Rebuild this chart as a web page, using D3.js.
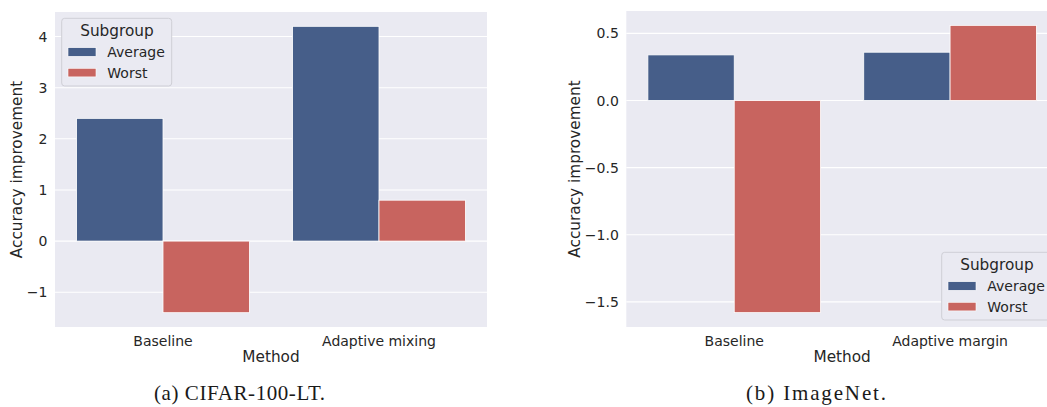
<!DOCTYPE html>
<html>
<head>
<meta charset="utf-8">
<script src="https://cdn.jsdelivr.net/npm/d3@7"></script>
<style>
  html, body { margin: 0; padding: 0; background: #ffffff; }
  svg { display: block; }
</style>
</head>
<body>
<svg id="fig" width="1047" height="407"></svg>
<script>
// Panel (a): CIFAR-100-LT
const methodsA = ["Baseline", "Adaptive mixing"];
const averageA = [2.4, 4.2];
const worstA = [-1.4, 0.8];
const ticksA = [-1, 0, 1, 2, 3, 4];

// Panel (b): ImageNet
const methodsB = ["Baseline", "Adaptive margin"];
const averageB = [0.34, 0.36];
const worstB = [-1.58, 0.56];
const ticksB = [-1.5, -1.0, -0.5, 0.0, 0.5];

const subgroups = ["Average", "Worst"];
const subgroupColors = ["#465e89", "#c8645f"];
const captions = ["(a) CIFAR-100-LT.", "(b) ImageNet."];

const TEXT = "#262626";
const FONT = "DejaVu Sans, sans-serif";
const svg = d3.select("#fig");

function drawPanel(cfg) {
  const { left, right, top, bottom, methods, average, worst, ticks, fmt,
          legend, caption, captionX, captionW, ylabelX } = cfg;

  // y domain padded by 5% of the data span, as matplotlib autoscaling does
  const all = average.concat(worst, [0]);
  const lo = d3.min(all), hi = d3.max(all), pad = (hi - lo) * 0.05;
  const y = d3.scaleLinear().domain([lo - pad, hi + pad]).range([bottom, top]);
  const x = d3.scaleBand().domain(methods).range([left, right]).padding(0);
  const xs = d3.scaleBand().domain(subgroups)
    .range([x.bandwidth() * 0.1, x.bandwidth() * 0.9]).padding(0);

  const g = svg.append("g");

  // axes background
  g.append("rect").attr("x", left).attr("y", top)
    .attr("width", right - left).attr("height", bottom - top)
    .attr("fill", "#eaeaf2");

  // horizontal grid
  g.append("g").selectAll("line").data(ticks).join("line")
    .attr("x1", left).attr("x2", right)
    .attr("y1", d => y(d)).attr("y2", d => y(d))
    .attr("stroke", "#ffffff").attr("stroke-width", 1.1);

  // bars
  const rows = [];
  methods.forEach((m, i) => {
    rows.push({ m, s: "Average", v: average[i], c: subgroupColors[0] });
    rows.push({ m, s: "Worst", v: worst[i], c: subgroupColors[1] });
  });
  g.append("g").selectAll("rect").data(rows).join("rect")
    .attr("x", d => x(d.m) + xs(d.s))
    .attr("width", xs.bandwidth())
    .attr("y", d => Math.min(y(d.v), y(0)))
    .attr("height", d => Math.abs(y(d.v) - y(0)))
    .attr("fill", d => d.c)
    .attr("stroke", "#ffffff").attr("stroke-width", 0.8);

  // y axis tick labels
  const yAxis = d3.axisLeft(y).tickValues(ticks).tickSize(0).tickPadding(7.5).tickFormat(fmt);
  const ya = g.append("g").attr("transform", `translate(${left},0)`).call(yAxis);
  ya.select(".domain").remove();
  ya.selectAll("text").attr("fill", TEXT).attr("font-family", FONT).attr("font-size", 14);

  // x axis tick labels
  const xAxis = d3.axisBottom(x).tickSize(0).tickPadding(9);
  const xa = g.append("g").attr("transform", `translate(0,${bottom})`).call(xAxis);
  xa.select(".domain").remove();
  xa.selectAll("text").attr("fill", TEXT).attr("font-family", FONT).attr("font-size", 14);

  // axis titles
  g.append("text").attr("x", (left + right) / 2).attr("y", 361.5)
    .attr("text-anchor", "middle").attr("fill", TEXT)
    .attr("font-family", FONT).attr("font-size", 15.3).text("Method");
  g.append("text")
    .attr("transform", `translate(${ylabelX},${(top + bottom) / 2}) rotate(-90)`)
    .attr("text-anchor", "middle").attr("dy", "0.35em").attr("fill", TEXT)
    .attr("font-family", FONT).attr("font-size", 15.3).text("Accuracy improvement");

  // legend
  const lg = g.append("g").attr("transform", `translate(${legend.x},${legend.y})`);
  lg.append("rect").attr("x", 0).attr("y", 0).attr("width", 110).attr("height", 67.7)
    .attr("rx", 3).attr("fill", "#eaeaf2").attr("stroke", "#cfcfd6").attr("stroke-width", 1);
  lg.append("text").attr("x", 55.3).attr("y", 17.3).attr("text-anchor", "middle")
    .attr("fill", TEXT).attr("font-family", FONT).attr("font-size", 15.3).text("Subgroup");
  subgroups.forEach((s, i) => {
    lg.append("rect").attr("x", 6.3).attr("y", 29.4 + i * 20.6)
      .attr("width", 28).attr("height", 8.6).attr("fill", subgroupColors[i])
      .attr("stroke", "#ffffff").attr("stroke-width", 0.6);
    lg.append("text").attr("x", 45.6).attr("y", 38.8 + i * 20.6)
      .attr("fill", TEXT).attr("font-family", FONT).attr("font-size", 14).text(s);
  });

  // caption
  svg.append("text").attr("x", captionX).attr("y", 400)
    .attr("text-anchor", "middle").attr("fill", "#1a1a1a")
    .attr("font-family", "Liberation Serif, serif").attr("font-size", 21)
    .attr("textLength", captionW).attr("lengthAdjust", "spacing")
    .text(caption);
}

drawPanel({
  left: 55, right: 487, top: 12, bottom: 327,
  methods: methodsA, average: averageA, worst: worstA, ticks: ticksA,
  fmt: d3.format("d"),
  legend: { x: 61.7, y: 18.3 },
  caption: captions[0], captionX: 239.5, captionW: 171, ylabelX: 16.6
});

drawPanel({
  left: 626.3, right: 1058, top: 11, bottom: 327,
  methods: methodsB, average: averageB, worst: worstB, ticks: ticksB,
  fmt: d3.format(".1f"),
  legend: { x: 941.7, y: 252.3 },
  caption: captions[1], captionX: 816, captionW: 140, ylabelX: 575
});
</script>
</body>
</html>
